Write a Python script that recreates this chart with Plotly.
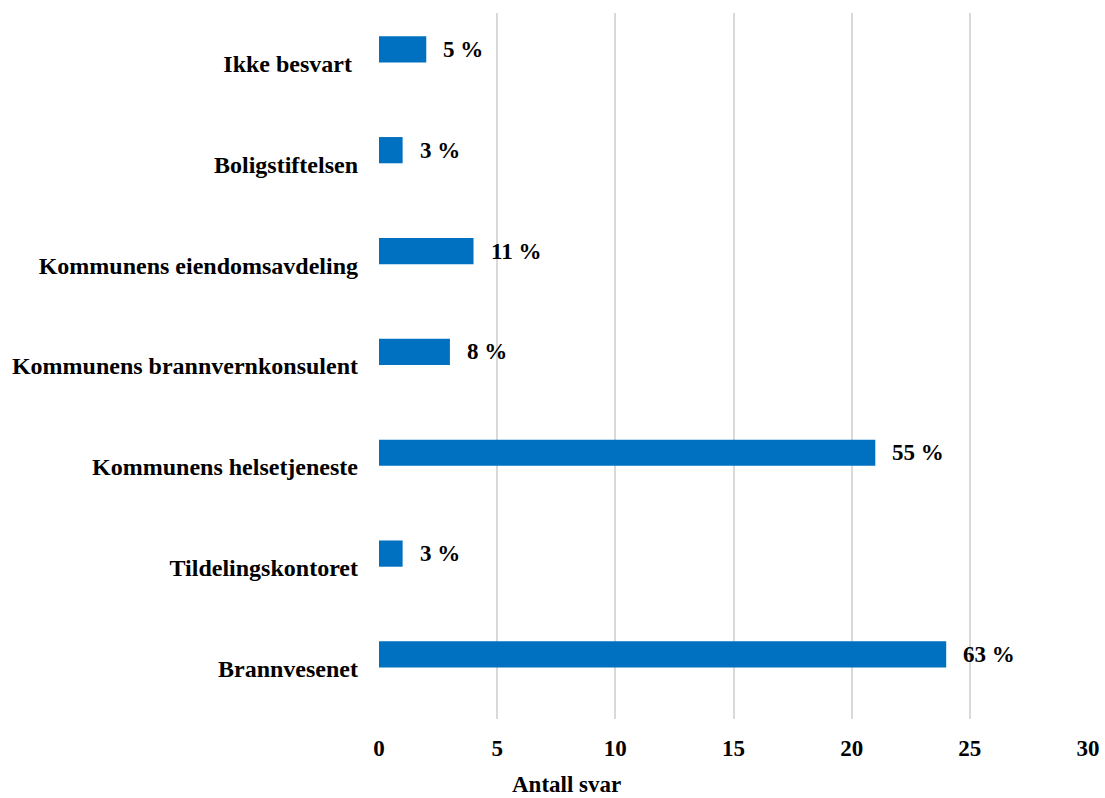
import plotly.graph_objects as go

# Survey answers: who has responsibility (count of answers)
categories = [
    "Brannvesenet",
    "Tildelingskontoret",
    "Kommunens helsetjeneste",
    "Kommunens brannvernkonsulent",
    "Kommunens eiendomsavdeling",
    "Boligstiftelsen",
    "Ikke besvart ",
]
counts = [24, 1, 21, 3, 4, 1, 2]
pct_labels = ["63 %", "3 %", "55 %", "8 %", "11 %", "3 %", "5 %"]
x_ticks = [0, 5, 10, 15, 20, 25, 30]

FONT = "Liberation Serif, Times New Roman, serif"
FS = 23
BAR_COLOR = "#0070C0"
BAR_WIDTH = 0.26
BAR_OFFSET = 0.01

fig = go.Figure()
fig.add_trace(go.Bar(
    x=counts,
    y=categories,
    orientation="h",
    marker=dict(color=BAR_COLOR, line=dict(width=0)),
    width=BAR_WIDTH,
    offset=BAR_OFFSET,
    hoverinfo="x+y",
))

# value labels to the right of each bar
for i, (v, t) in enumerate(zip(counts, pct_labels)):
    fig.add_annotation(
        x=v, y=i + BAR_OFFSET + BAR_WIDTH / 2,
        text=f"<b>{t}</b>", showarrow=False,
        xanchor="left", yanchor="middle", xshift=15,
        font=dict(family=FONT, size=FS, color="black"),
    )

fig.add_annotation(
    x=0.264, xref="paper", y=-0.093, yref="paper",
    text="<b>Antall svar</b>", showarrow=False,
    xanchor="center", yanchor="middle",
    font=dict(family=FONT, size=FS, color="black"),
)

fig.update_layout(
    width=1105, height=798,
    margin=dict(l=379, r=17, t=13, b=79),
    paper_bgcolor="white", plot_bgcolor="white",
    showlegend=False,
    font=dict(family=FONT, size=FS, color="black"),
    xaxis=dict(
        range=[0, 30], tickvals=x_ticks,
        ticktext=[f"<b>{t}</b>" for t in x_ticks],
        showgrid=True, gridcolor="#D9D9D9", gridwidth=2,
        zeroline=False, showline=False, ticks="",
        tickfont=dict(family=FONT, size=FS, color="black"),
        ticklabelstandoff=13,
        automargin=False,
    ),
    yaxis=dict(
        type="category",
        categoryorder="array", categoryarray=categories,
        range=[-0.5, 6.5],
        tickvals=categories,
        ticktext=[f"<b>{c}</b>" for c in categories],
        showgrid=False, zeroline=False, showline=False, ticks="",
        tickfont=dict(family=FONT, size=24, color="black"),
        ticklabelstandoff=20,
        automargin=False,
    ),
)

fig.write_html("out.html")
